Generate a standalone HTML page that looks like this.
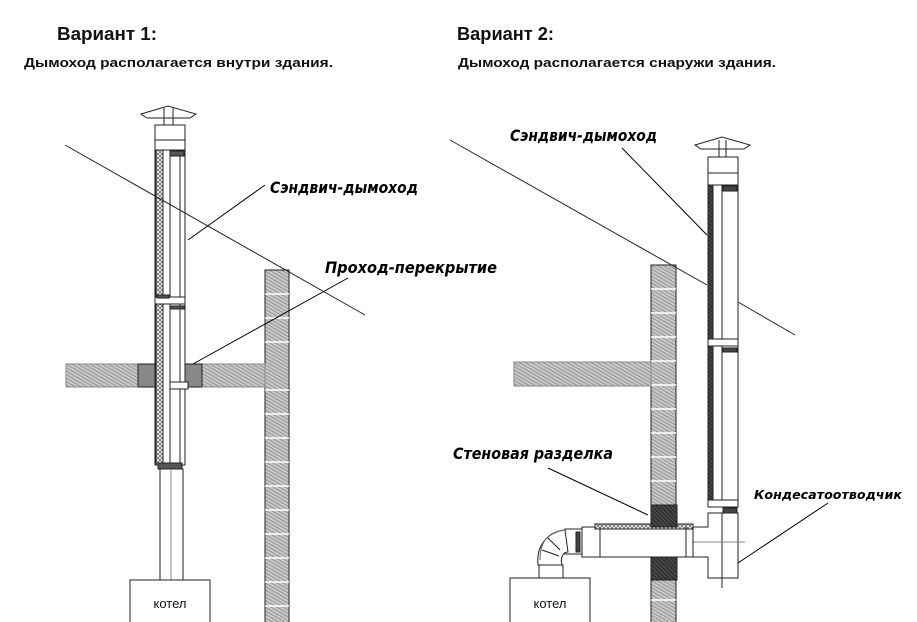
<!DOCTYPE html>
<html><head><meta charset="utf-8"><style>
html,body{margin:0;padding:0;background:#fff;width:917px;height:622px;overflow:hidden}
svg{display:block}
.t{font-family:"Liberation Sans",sans-serif;font-weight:bold;fill:#111}
.l{font-family:"DejaVu Sans","Liberation Sans",sans-serif;font-weight:bold;font-style:italic;fill:#000}
</style></head><body>
<svg width="917" height="622" viewBox="0 0 917 622" xmlns="http://www.w3.org/2000/svg">
<defs>
<pattern id="h" width="3" height="3" patternUnits="userSpaceOnUse" patternTransform="rotate(30)">
<rect width="3" height="3" fill="#c8c8c8"/><line x1="0" y1="0" x2="3" y2="0" stroke="#777" stroke-width="1.2"/></pattern>
<pattern id="d" width="3" height="3" patternUnits="userSpaceOnUse" patternTransform="rotate(45)">
<rect width="3" height="3" fill="#333"/><line x1="0" y1="0" x2="3" y2="0" stroke="#777" stroke-width="0.8"/></pattern>
<pattern id="ins" width="4" height="4" patternUnits="userSpaceOnUse">
<rect width="4" height="4" fill="#fff"/><path d="M0 0L4 4M4 0L0 4" stroke="#666" stroke-width="0.8"/></pattern>
</defs>

<text class="t" x="57" y="40" font-size="18" textLength="100" lengthAdjust="spacingAndGlyphs">Вариант 1:</text>
<text class="t" x="24" y="67" font-size="13" textLength="309" lengthAdjust="spacingAndGlyphs">Дымоход располагается внутри здания.</text>
<text class="t" x="457" y="40" font-size="18" textLength="97" lengthAdjust="spacingAndGlyphs">Вариант 2:</text>
<text class="t" x="458" y="67" font-size="13" textLength="318" lengthAdjust="spacingAndGlyphs">Дымоход располагается снаружи здания.</text>

<!-- LEFT -->
<g stroke="#222" stroke-width="1" fill="none">
<rect x="265" y="270" width="24" height="360" fill="url(#h)"/>
<g stroke="#fff" stroke-width="1.5">
<line x1="265" y1="294" x2="289" y2="294"/><line x1="265" y1="318" x2="289" y2="318"/><line x1="265" y1="342" x2="289" y2="342"/><line x1="265" y1="390" x2="289" y2="390"/><line x1="265" y1="414" x2="289" y2="414"/><line x1="265" y1="438" x2="289" y2="438"/><line x1="265" y1="462" x2="289" y2="462"/><line x1="265" y1="486" x2="289" y2="486"/><line x1="265" y1="510" x2="289" y2="510"/><line x1="265" y1="534" x2="289" y2="534"/><line x1="265" y1="558" x2="289" y2="558"/><line x1="265" y1="582" x2="289" y2="582"/><line x1="265" y1="606" x2="289" y2="606"/>
</g>
<rect x="66" y="364" width="199" height="23" fill="url(#h)" stroke="#888"/>
<rect x="138" y="364" width="17" height="23" fill="#888"/>
<rect x="185" y="364" width="17" height="23" fill="#888"/>
<path d="M141 114L168 106L196 114L190 118H147Z" fill="#fff"/>
<line x1="164" y1="108" x2="164" y2="125"/><line x1="173" y1="108" x2="173" y2="125"/>
<rect x="155" y="125" width="30" height="25" fill="#fff"/>
<line x1="155" y1="140" x2="185" y2="140"/>
<rect x="155" y="150" width="30" height="315" fill="#fff"/>
<rect x="156" y="150" width="7" height="315" fill="url(#ins)"/>
<line x1="170" y1="150" x2="170" y2="465"/><line x1="180" y1="150" x2="180" y2="465"/>
<rect x="170" y="151" width="14" height="5" fill="#555"/>
<rect x="155" y="297" width="30" height="7" fill="#fff"/>
<rect x="157" y="295" width="12" height="3" fill="#555"/><rect x="170" y="306" width="14" height="3" fill="#555"/>
<rect x="170" y="382" width="18" height="7" fill="#fff"/>
<rect x="158" y="463" width="24" height="6" fill="#555"/>
<rect x="160" y="469" width="23" height="111" fill="#fff"/>
<line x1="171" y1="469" x2="171" y2="580" stroke="#888"/>
<path d="M130 622V580H210V622"/>
<line x1="65" y1="145" x2="365" y2="315"/>
<line x1="265" y1="185" x2="188" y2="240" stroke="#000"/>
<line x1="348" y1="278" x2="193" y2="364" stroke="#000"/>
</g>
<text x="170" y="608" font-family="Liberation Sans,sans-serif" font-size="13" text-anchor="middle" fill="#111">котел</text>
<text class="l" x="270" y="193" font-size="16" textLength="148" lengthAdjust="spacingAndGlyphs">Сэндвич-дымоход</text>
<text class="l" x="325" y="273" font-size="16" textLength="172" lengthAdjust="spacingAndGlyphs">Проход-перекрытие</text>

<!-- RIGHT -->
<g stroke="#222" stroke-width="1" fill="none">
<rect x="651" y="265" width="25" height="360" fill="url(#h)"/>
<g stroke="#fff" stroke-width="1.5">
<line x1="651" y1="289" x2="676" y2="289"/><line x1="651" y1="313" x2="676" y2="313"/><line x1="651" y1="337" x2="676" y2="337"/><line x1="651" y1="361" x2="676" y2="361"/><line x1="651" y1="385" x2="676" y2="385"/><line x1="651" y1="409" x2="676" y2="409"/><line x1="651" y1="433" x2="676" y2="433"/><line x1="651" y1="457" x2="676" y2="457"/><line x1="651" y1="481" x2="676" y2="481"/><line x1="651" y1="600" x2="676" y2="600"/>
</g>
<rect x="514" y="362" width="137" height="24" fill="url(#h)" stroke="#888"/>
<line x1="450" y1="140" x2="707" y2="285"/>
<line x1="738" y1="302" x2="795" y2="335"/>
<path d="M695 145L722 137L750 145L744 149H701Z" fill="#fff"/>
<line x1="719" y1="140" x2="719" y2="157"/><line x1="726" y1="140" x2="726" y2="157"/>
<rect x="708" y="157" width="30" height="28" fill="#fff"/>
<line x1="708" y1="173" x2="738" y2="173"/>
<rect x="708" y="185" width="30" height="320" fill="#fff"/>
<rect x="708" y="185" width="5" height="320" fill="url(#d)"/>
<line x1="722" y1="185" x2="722" y2="505"/>
<rect x="723" y="186" width="14" height="5" fill="#444"/>
<rect x="708" y="339" width="30" height="7" fill="#fff"/>
<rect x="723" y="348" width="14" height="4" fill="#444"/>
<rect x="708" y="500" width="30" height="7" fill="#fff"/>
<rect x="723" y="508" width="14" height="5" fill="#444"/>
<path d="M708 513V527H693V557H708V578H738V513Z" fill="#fff"/>
<line x1="722" y1="513" x2="722" y2="588"/>
<line x1="693" y1="542" x2="745" y2="542" stroke="#888"/>
<rect x="582" y="527" width="111" height="30" fill="#fff"/>
<rect x="595" y="524" width="98" height="5" fill="url(#ins)"/>
<line x1="600" y1="527" x2="600" y2="557"/><line x1="686" y1="527" x2="686" y2="557"/>
<rect x="651" y="505" width="26" height="22" fill="url(#d)"/>
<rect x="651" y="557" width="26" height="23" fill="url(#d)"/>
<rect x="565" y="529" width="17" height="25" fill="#fff"/>
<rect x="576" y="532" width="4" height="20" fill="#444"/>
<path d="M565 530C548 532 536 545 538 565H562C560 558 563 552 568 552Z" fill="#fff"/>
<path d="M565 530 C545 532 540 545 540 560" stroke="#666"/>
<line x1="548" y1="538" x2="560" y2="550"/><line x1="542" y1="550" x2="559" y2="556"/>
<rect x="539" y="565" width="24" height="13" fill="#fff"/>
<path d="M510 622V578H590V622"/>
<line x1="622" y1="148" x2="707" y2="235" stroke="#000"/>
<line x1="548" y1="468" x2="648" y2="515" stroke="#000"/>
<line x1="828" y1="503" x2="738" y2="563" stroke="#000"/>
</g>
<text x="550" y="608" font-family="Liberation Sans,sans-serif" font-size="13" text-anchor="middle" fill="#111">котел</text>
<text class="l" x="510" y="141" font-size="16" textLength="147" lengthAdjust="spacingAndGlyphs">Сэндвич-дымоход</text>
<text class="l" x="453" y="459" font-size="16" textLength="160" lengthAdjust="spacingAndGlyphs">Стеновая разделка</text>
<text class="l" x="754" y="499" font-size="12" textLength="148" lengthAdjust="spacingAndGlyphs">Кондесатоотводчик</text>
</svg>
</body></html>
